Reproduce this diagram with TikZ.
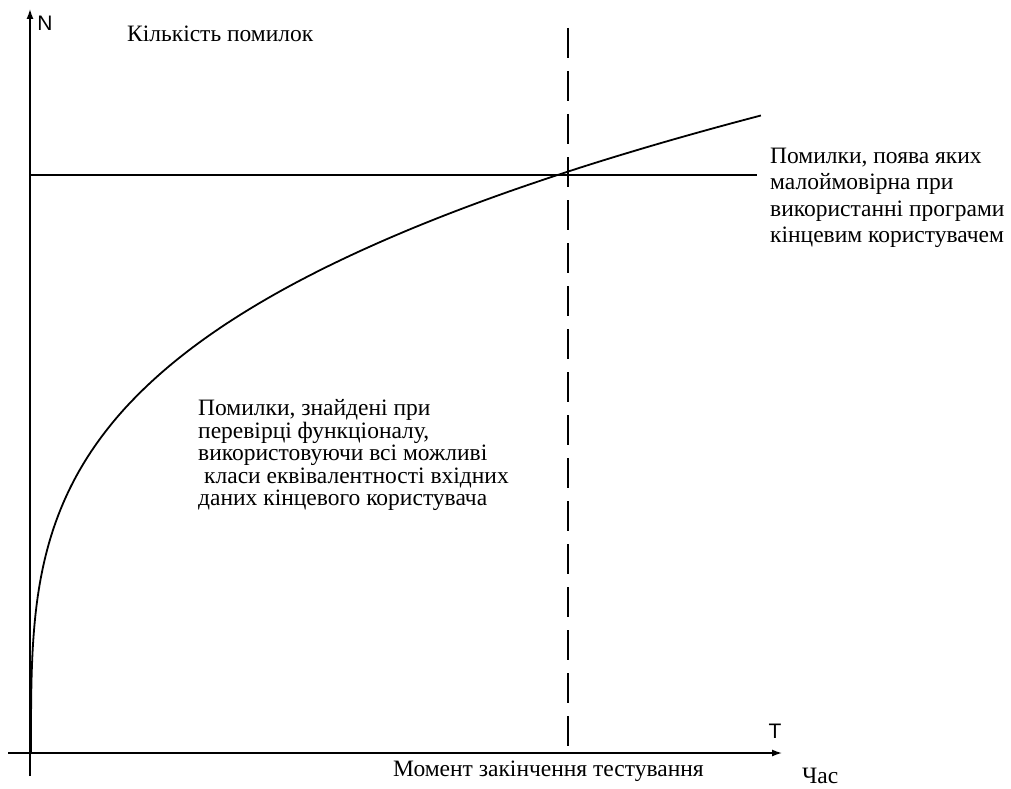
\documentclass[tikz,border=0pt]{standalone}
\usepackage{fontspec}
\setmainfont{Liberation Serif}
\newfontfamily\axisfont{Liberation Sans}
\usetikzlibrary{arrows.meta}
\begin{document}
\begin{tikzpicture}[x=1pt,y=-1pt,
  axisline/.style={line width=1.4pt,-{Latex[length=10pt,width=7pt]}},
  guide/.style={line width=1.2pt},
  curveline/.style={line width=1.8pt},
  txt/.style={inner sep=0pt,font=\fontsize{23.5}{22.5}\selectfont},
  axislabel/.style={inner sep=0pt,font=\axisfont\fontsize{21}{22}\selectfont}]
\useasboundingbox (0,0) rectangle (1011,789);

% axes
\coordinate (xstart) at (8,753);
\coordinate (xend) at (782,753);
\coordinate (ystart) at (30,776);
\coordinate (yend) at (30,9);
\draw[axisline] (xstart) -- (xend);
\draw[axisline] (ystart) -- (yend);
\node[axislabel] (N) at (45,23) {N};
\node[axislabel] (T) at (775,731) {T};

% level of rarely occurring errors and the end of testing
\coordinate (hstart) at (30,175);
\coordinate (hend) at (757,175);
\draw[guide] (hstart) -- (hend);
\coordinate (dtop) at (568,28);
\coordinate (dbot) at (568,753);
\draw[guide,dash pattern=on 30pt off 13pt] (dtop) -- (dbot);

% number of found errors over time
\coordinate (origin) at (31,753);
\draw[curveline,line join=round] (origin) --
  plot[domain=0.02:7.23,samples=160] ({31+(\x)^(10/3)},{753-88.2*\x});

% labels
\node[txt,anchor=west] (ylabel) at (127,34) {Кількість помилок};
\node[txt,anchor=west,align=left,font=\fontsize{23.5}{26.5}\selectfont] (rare) at (770,198)
  {Помилки, поява яких\\малоймовірна при\\використанні програми\\кінцевим користувачем};
\node[txt,anchor=west,align=left] (found) at (198,455)
  {Помилки, знайдені при\\перевірці функціоналу,\\використовуючи всі можливі\\\hspace*{6pt}класи еквівалентності вхідних\\даних кінцевого користувача};
\node[txt,anchor=west] (endtest) at (393,771) {Момент закінчення тестування};
\node[txt,anchor=west] (time) at (802,776) {Час};
\end{tikzpicture}
\end{document}
